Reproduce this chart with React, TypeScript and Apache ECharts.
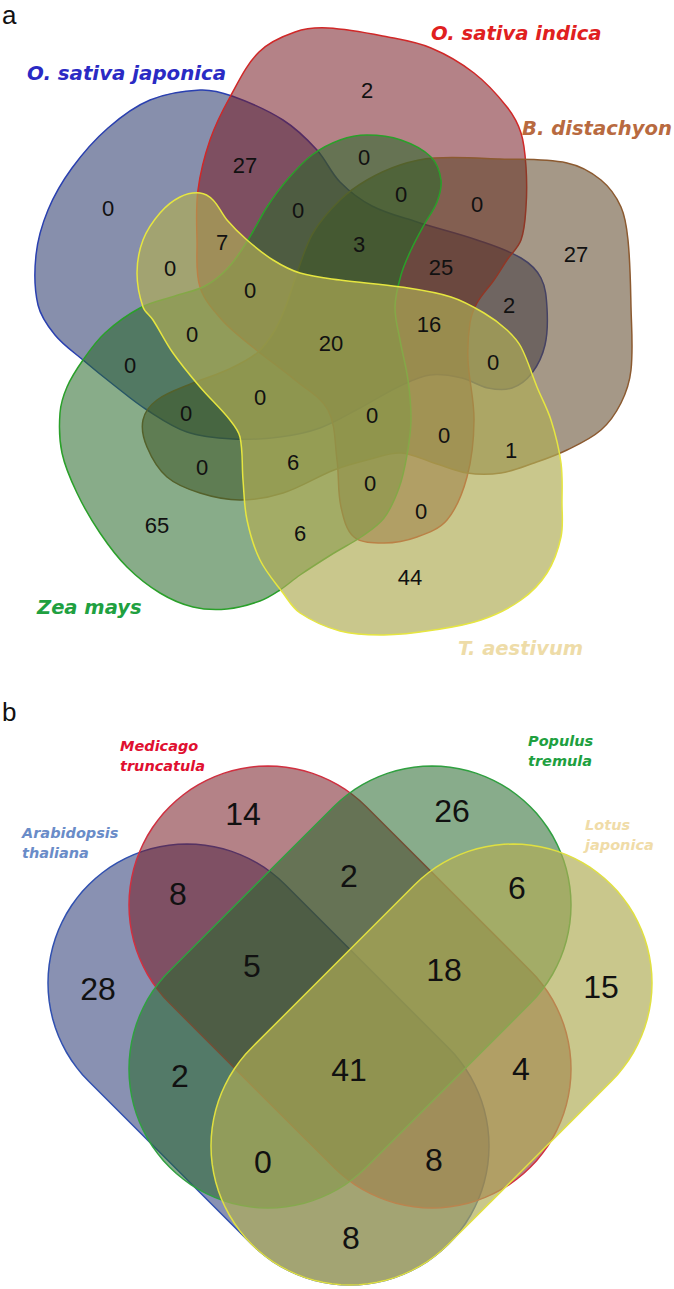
import React, { useEffect, useRef } from "react";
import * as echarts from "echarts";

// ---------- data ----------
const SETS_A = ["O. sativa japonica", "O. sativa indica", "B. distachyon", "Zea mays", "T. aestivum"];
const COUNTS_A = [2, 27, 0, 0, 0, 0, 0, 7, 3, 25, 27, 0, 0, 2, 0, 20, 16, 0, 0, 0, 0, 0, 0, 1, 0, 6, 0, 0, 65, 6, 44];
const SETS_B = ["Arabidopsis\nthaliana", "Medicago\ntruncatula", "Populus\ntremula", "Lotus\njaponica"];
const COUNTS_B = [28, 14, 26, 15, 8, 2, 6, 5, 18, 2, 41, 4, 0, 8, 8];
const PANELS = ["a", "b"];

// ---------- layout ----------
const COUNT_POS_A = [
  [367, 90], [245, 165], [108, 208], [364, 157], [401, 194], [477, 204], [298, 210], [222, 242],
  [359, 244], [441, 267], [576, 254], [170, 268], [250, 290], [509, 305], [192, 334], [331, 343],
  [429, 324], [130, 365], [493, 362], [186, 413], [260, 397], [372, 415], [444, 435], [511, 450],
  [202, 467], [293, 462], [370, 483], [421, 511], [157, 525], [300, 533], [410, 577],
];
const COUNT_POS_B = [
  [98, 989], [243, 814], [452, 811], [601, 987], [178, 894], [349, 876], [517, 888], [252, 966],
  [444, 970], [180, 1076], [349, 1070], [521, 1069], [263, 1162], [434, 1160], [351, 1238],
];

const BLOBS_A = [
  [[200,90],[232,96],[283,120],[317,150],[340,182],[372,206],[417,222],[477,240],[521,258],[541,278],[547,308],[545,345],[532,373],[512,388],[488,388],[462,378],[430,375],[400,386],[360,408],[320,428],[280,437],[233,439],[187,432],[147,410],[115,386],[83,360],[55,335],[38,305],[36,255],[48,210],[72,168],[108,128],[150,100]],
  [[328,28],[388,37],[431,48],[474,73],[507,107],[521,133],[526,167],[526,207],[521,240],[507,260],[494,280],[477,303],[470,323],[468,360],[474,420],[467,477],[447,520],[417,537],[384,543],[354,537],[341,507],[337,460],[328,410],[295,380],[254,348],[222,320],[200,287],[197,240],[198,190],[210,140],[230,97],[259,52],[295,32]],
  [[434,158],[500,159],[567,163],[601,180],[621,207],[628,240],[631,307],[631,370],[621,403],[601,430],[567,450],[534,463],[501,473],[467,473],[434,463],[401,453],[367,460],[334,470],[283,493],[240,500],[200,493],[167,477],[147,447],[143,420],[157,400],[193,383],[227,370],[257,353],[275,330],[287,303],[297,273],[313,233],[340,200],[367,180],[400,165]],
  [[367,135],[401,140],[431,157],[441,180],[437,202],[424,225],[411,250],[401,275],[395,307],[400,340],[408,380],[411,420],[407,455],[399,488],[384,518],[361,537],[334,553],[300,575],[280,590],[260,601],[227,609],[193,607],[160,593],[127,567],[100,533],[77,493],[62,453],[60,413],[67,387],[83,360],[105,333],[140,308],[175,296],[205,286],[228,268],[248,240],[267,207],[287,180],[312,155],[340,140]],
  [[200,193],[213,200],[227,220],[247,240],[273,260],[300,273],[340,280],[401,287],[451,297],[484,313],[507,330],[521,347],[537,387],[551,420],[561,463],[562,503],[561,537],[547,573],[521,600],[481,620],[434,630],[384,635],[340,631],[300,613],[283,593],[260,560],[247,520],[243,480],[240,437],[230,420],[200,387],[173,353],[153,320],[143,307],[137,273],[143,240],[160,213],[180,197]],
];
const FILL_A = ["rgba(36,51,104,0.55)", "rgba(118,27,36,0.55)", "rgba(91,67,36,0.55)", "rgba(38,104,40,0.55)", "rgba(175,172,85,0.68)"];
const STROKE_A = ["#2a40b0", "#d02828", "#8c5a30", "#2aa02a", "#e6e640"];
const LABEL_POS_A = [[27, 73], [431, 33], [522, 128], [37, 607], [458, 648]];
const LABEL_COLOR_A = ["#2a2ac4", "#e02020", "#b86a40", "#20a040", "#eedca8"];
const LABEL_SIZE_A = [19.8, 19.6, 19.6, 19.5, 19.5];

const R_B = 139;
const STADIUMS_B = [
  [[187, 983], [350, 1146]],
  [[268, 905], [432, 1069]],
  [[432, 905], [268, 1069]],
  [[513, 983], [350, 1146]],
];
const FILL_B = ["rgba(40,55,115,0.55)", "rgba(118,27,36,0.55)", "rgba(38,104,44,0.55)", "rgba(175,172,85,0.68)"];
const STROKE_B = ["#3050b0", "#d03040", "#30a040", "#e0e040"];
const LABEL_POS_B = [[22, 843], [120, 756], [528, 751], [585, 835]];
const LABEL_COLOR_B = ["#6a8cc8", "#e01030", "#20a040", "#f0dca8"];
const PANEL_POS = [[2, 15], [2, 712]];

function stadium(c1: number[], c2: number[], r: number, n = 48) {
  const th = Math.atan2(c2[1] - c1[1], c2[0] - c1[0]);
  const pts: number[][] = [];
  for (let i = 0; i <= n; i++) {
    const a = th - Math.PI / 2 + (Math.PI * i) / n;
    pts.push([c2[0] + r * Math.cos(a), c2[1] + r * Math.sin(a)]);
  }
  for (let i = 0; i <= n; i++) {
    const a = th + Math.PI / 2 + (Math.PI * i) / n;
    pts.push([c1[0] + r * Math.cos(a), c1[1] + r * Math.sin(a)]);
  }
  return pts;
}

function numText(v: number, p: number[], size: number) {
  return {
    type: "text",
    x: p[0],
    y: p[1],
    z: 10,
    style: {
      text: String(v),
      fill: "#111",
      fontSize: size,
      fontFamily: '"Liberation Sans", Arial, sans-serif',
      align: "center",
      verticalAlign: "middle",
      textAlign: "center",
      textVerticalAlign: "middle",
    },
  };
}

function labelText(t: string, p: number[], color: string, size: number, lh?: number) {
  return {
    type: "text",
    x: p[0],
    y: p[1],
    z: 10,
    style: {
      text: t,
      fill: color,
      fontSize: size,
      fontWeight: "bold",
      fontStyle: "italic",
      fontFamily: '"DejaVu Sans", Verdana, sans-serif',
      lineHeight: lh || size * 1.2,
      align: "left",
      verticalAlign: "middle",
      textAlign: "left",
      textVerticalAlign: "middle",
    },
  };
}

export default function App() {
  const ref = useRef<HTMLDivElement>(null);
  useEffect(() => {
    if (!ref.current) return;
    const chart = echarts.init(ref.current, undefined, { renderer: "svg" });
    const elements: any[] = [];
    BLOBS_A.forEach((pts, i) => {
      elements.push({
        type: "polygon",
        z: 1,
        shape: { points: pts, smooth: 0.35 },
        style: { fill: FILL_A[i], stroke: STROKE_A[i], lineWidth: 1.5 },
      });
    });
    STADIUMS_B.forEach((s, i) => {
      elements.push({
        type: "polygon",
        z: 1,
        shape: { points: stadium(s[0], s[1], R_B) },
        style: { fill: FILL_B[i], stroke: STROKE_B[i], lineWidth: 1.5 },
      });
    });
    COUNTS_A.forEach((v, i) => elements.push(numText(v, COUNT_POS_A[i], 22)));
    COUNTS_B.forEach((v, i) => elements.push(numText(v, COUNT_POS_B[i], 32)));
    SETS_A.forEach((s, i) => elements.push(labelText(s, LABEL_POS_A[i], LABEL_COLOR_A[i], LABEL_SIZE_A[i])));
    SETS_B.forEach((s, i) => elements.push(labelText(s, LABEL_POS_B[i], LABEL_COLOR_B[i], 14.5, 20)));
    PANELS.forEach((p, i) => {
      elements.push({
        type: "text",
        x: PANEL_POS[i][0],
        y: PANEL_POS[i][1],
        z: 10,
        style: {
          text: p,
          fill: "#111",
          fontSize: 26,
          fontFamily: '"Liberation Sans", Arial, sans-serif',
          align: "left",
          verticalAlign: "middle",
          textAlign: "left",
          textVerticalAlign: "middle",
        },
      });
    });
    chart.setOption({ animation: false, graphic: { elements } });
    return () => chart.dispose();
  }, []);
  return (
    <div
      ref={ref}
      style={{ position: "absolute", left: 0, top: 0, width: 674, height: 1289, background: "#fff" }}
    />
  );
}
